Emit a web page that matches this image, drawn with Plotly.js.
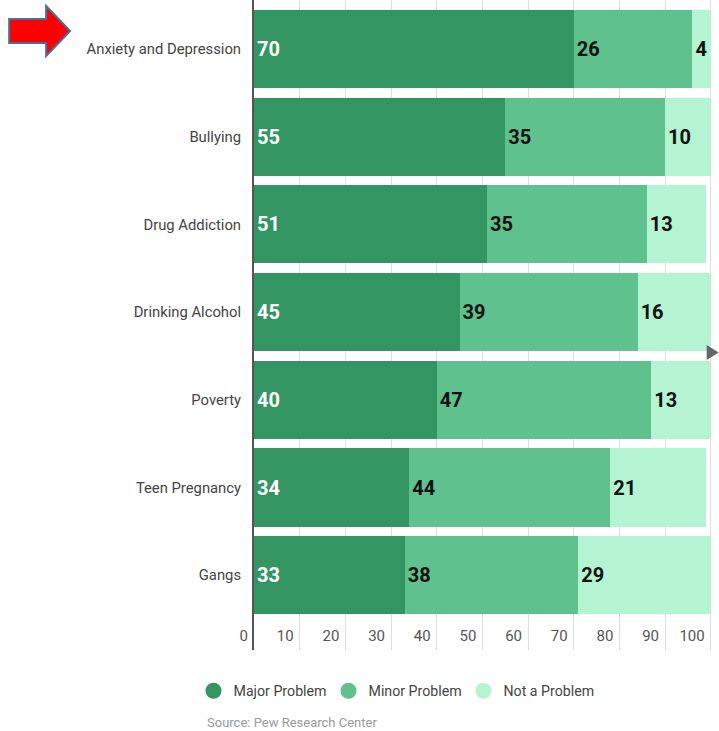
<!DOCTYPE html>
<html><head><meta charset="utf-8">
<script src="https://cdn.plot.ly/plotly-3.0.1.min.js"></script>
<style>html,body{margin:0;padding:0;background:#fff}#chart{width:719px;height:731px}</style>
</head><body><div id="chart"></div>
<script>
const categories = ["Anxiety and Depression","Bullying","Drug Addiction","Drinking Alcohol","Poverty","Teen Pregnancy","Gangs"];
const majorProblem = [70,55,51,45,40,34,33];
const minorProblem = [26,35,35,39,47,44,38];
const notAProblem = [4,10,13,16,13,21,29];
const seriesNames = ["Major Problem","Minor Problem","Not a Problem"];
const xTickValues = [0,10,20,30,40,50,60,70,80,90,100];
const xTickLabels = ["0","10","20","30","40","50","60","70","80","90","100"];
const sourceText = "Source: Pew Research Center";

const colors = ["#339562","#5ec18e","#b4f4d3"];
const textColors = ["#ffffff","#111111","#111111"];
const FONT = "Roboto, 'Open Sans', sans-serif";

const W = 719, H = 731;
const L = 254, R = 5.7, T = 0, B = 81;
const plotW = W - L - R, plotH = H - T - B;
const px2x = p => (p - L) / plotW;
const py2y = p => 1 - (p - T) / plotH;
function pathFrom(pts){
  return pts.map((p,i)=>(i?'L':'M')+px2x(p[0]).toFixed(5)+','+py2y(p[1]).toFixed(5)).join(' ')+' Z';
}

const seriesVals = [majorProblem, minorProblem, notAProblem];
const traces = seriesVals.map((vals,i)=>({
  type:'bar', orientation:'h', x:vals, y:categories,
  name:seriesNames[i], showlegend:false,
  marker:{color:colors[i], line:{width:0}},
  text:vals.map(String), textposition:'inside', insidetextanchor:'start',
  constraintext:'none',
  textfont:{family:FONT, size:20, color:textColors[i], weight:'bold'},
  hoverinfo:'skip'
}));
seriesNames.forEach((n,i)=>traces.push({
  type:'scatter', mode:'markers', x:[null], y:[null], name:n,
  marker:{color:colors[i], size:17, symbol:'circle'}, hoverinfo:'skip'
}));

const layout = {
  width:W, height:H, margin:{l:L, r:R, t:T, b:B, pad:0},
  paper_bgcolor:'#fff', plot_bgcolor:'#fff',
  barmode:'stack', bargap:0.11,
  font:{family:FONT, color:'#444'},
  xaxis:{range:[0,100.5], tickvals:xTickValues, ticktext:xTickLabels,
    showgrid:true, gridcolor:'#dedede', gridwidth:1, zeroline:false, showline:false,
    ticks:'', ticklabelposition:'inside left', ticklabeloverflow:'allow', ticklabelshift:-6,
    tickfont:{family:FONT, size:15, color:'#555'},
    fixedrange:true},
  yaxis:{type:'category', range:[6.853,-0.559], showline:true, linecolor:'#555', linewidth:2,
    showgrid:false, zeroline:false, ticks:'outside', ticklen:8, tickcolor:'rgba(0,0,0,0)',
    tickfont:{family:FONT, size:14.8, color:'#444'}, fixedrange:true},
  legend:{orientation:'h', traceorder:'normal', xref:'container', yref:'container', x:396/W, y:1-691/H,
    xanchor:'center', yanchor:'middle', font:{family:FONT, size:14.2, color:'#444'},
    entrywidth:90, entrywidthmode:'pixels',
    itemclick:false, itemdoubleclick:false},
  annotations:[{xref:'paper', yref:'paper', x:px2x(205), y:py2y(722), xanchor:'left', yanchor:'middle',
    text:sourceText, showarrow:false, font:{family:FONT, size:13, color:'#9a9a9a'}}],
  shapes:[
    {type:'path', xref:'paper', yref:'paper',
     path:pathFrom([[9,19],[46,19],[46,6],[70,31],[46,56],[46,43],[9,43]]),
     fillcolor:'#ff0000', line:{color:'#41719c', width:2}},
    {type:'path', xref:'paper', yref:'paper',
     path:pathFrom([[707,345],[719,352.5],[707,360]]),
     fillcolor:'#666', line:{width:0}}
  ]
};
Plotly.newPlot('chart', traces, layout, {displayModeBar:false, staticPlot:true});
</script></body></html>
